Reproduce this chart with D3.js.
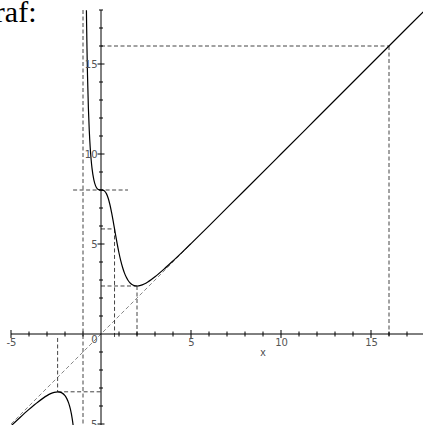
<!DOCTYPE html>
<html>
<head>
<meta charset="utf-8">
<script src="https://cdn.jsdelivr.net/npm/d3@7"></script>
<style>
  html, body { margin: 0; padding: 0; background: #fff; }
  svg { display: block; }
</style>
</head>
<body>
<svg id="chart" width="423" height="425"></svg>
<script>
// ---- data ----
const rightX = [-0.81, -0.8, -0.78, -0.75, -0.7, -0.65, -0.6, -0.55, -0.5, -0.4, -0.3, -0.2, -0.1, 0, 0.1, 0.2, 0.3, 0.4, 0.5, 0.6, 0.7, 0.8, 0.9, 1.0, 1.1, 1.2, 1.3, 1.4, 1.5, 1.6, 1.7, 1.8, 1.9, 2.0, 2.2, 2.4, 2.6, 2.8, 3.0, 3.5, 4.0, 4.5, 5, 6, 7, 8, 10, 12, 14, 16, 17.9];
const rightY = [17.99, 17.23, 15.93, 14.385, 12.542, 11.275, 10.369, 9.706, 9.214, 8.574, 8.230, 8.066, 8.008, 8.0, 7.992, 7.938, 7.798, 7.543, 7.167, 6.686, 6.136, 5.562, 5.006, 4.5, 4.060, 3.693, 3.396, 3.163, 2.986, 2.856, 2.765, 2.708, 2.676, 2.667, 2.698, 2.778, 2.891, 3.027, 3.179, 3.603, 4.062, 4.538, 5.024, 6.009, 7.003, 8.0, 9.998, 11.998, 13.998, 15.998, 17.898];
const leftX = [-5.0, -4.8, -4.5, -4.0, -3.5, -3.0, -2.8, -2.6, -2.4, -2.2, -2.0, -1.9, -1.8, -1.7, -1.6, -1.55, -1.5];
const leftY = [-5.105, -4.917, -4.639, -4.190, -3.775, -3.423, -3.315, -3.240, -3.211, -3.257, -3.429, -3.590, -3.828, -4.179, -4.701, -5.056, -5.5];

// dashed guide segments: [x1, y1, x2, y2]
const guideSegments = [
  [-1, 18, -1, -5.1],          // vertical asymptote
  [0, 16, 16, 16],
  [16, 16, 16, -0.22],
  [-1.55, 8, 1.5, 8],
  [0, 5.837, 0.752, 5.837],
  [0.752, 5.837, 0.752, -0.22],
  [0, 2.667, 2, 2.667],
  [2, 2.667, 2, -0.22],
  [-2.41, -0.22, -2.41, -3.211],
  [-2.41, -3.211, 0.1, -3.211]
];
const asymptoteSegment = [-5.0, -5.0, 5.0, 5.0];  // y = x

const xMajorTicks = [-5, 5, 10, 15];
const xMinorTicks = d3.range(-5, 18, 1);
const yMajorTicks = [-5, 5, 10, 15];
const yMinorTicks = d3.range(-5, 19, 1);
const xTickLabels = ["-5", "5", "10", "15"];
const yTickLabels = ["-5", "5", "10", "15"];
const titleText = "Graf:";
const axisLabel = "x";

// ---- scales ----
const x = d3.scaleLinear().domain([-5.6, 17.9]).range([0.2, 423.2]);
const y = d3.scaleLinear().domain([-5.05, 18]).range([424.9, 10]);

const svg = d3.select("#chart");

svg.append("defs").append("clipPath").attr("id", "plotclip")
  .append("rect").attr("x", 0).attr("y", y(18)).attr("width", 423).attr("height", 425 - y(18));

// title
svg.append("text")
  .attr("x", 36.5).attr("y", 22)
  .attr("text-anchor", "end")
  .style("font-family", "'Liberation Serif', 'Times New Roman', serif")
  .style("font-size", "30px")
  .attr("fill", "#000")
  .text(titleText);

const plot = svg.append("g").attr("clip-path", "url(#plotclip)");

// asymptote y = x
plot.append("line")
  .attr("x1", x(asymptoteSegment[0])).attr("y1", y(asymptoteSegment[1]))
  .attr("x2", x(asymptoteSegment[2])).attr("y2", y(asymptoteSegment[3]))
  .attr("stroke", "#888").attr("stroke-width", 1).attr("stroke-dasharray", "4,2.5");

// guide lines
plot.selectAll("line.guide").data(guideSegments).enter().append("line")
  .attr("class", "guide")
  .attr("x1", d => x(d[0])).attr("y1", d => y(d[1]))
  .attr("x2", d => x(d[2])).attr("y2", d => y(d[3]))
  .attr("stroke", "#444").attr("stroke-width", 1).attr("stroke-dasharray", "4,2.5");

// axes lines
const axisG = svg.append("g");
axisG.append("line")
  .attr("x1", x(-5)).attr("x2", x(17.9)).attr("y1", y(0)).attr("y2", y(0))
  .attr("stroke", "#000").attr("stroke-width", 1);
axisG.append("line")
  .attr("x1", x(0)).attr("x2", x(0)).attr("y1", y(18)).attr("y2", 425)
  .attr("stroke", "#000").attr("stroke-width", 1);

// x ticks
axisG.selectAll("line.xminor").data(xMinorTicks.filter(v => v !== 0)).enter().append("line")
  .attr("x1", d => x(d)).attr("x2", d => x(d))
  .attr("y1", d => y(0) - (xMajorTicks.includes(d) ? 4 : 2.5))
  .attr("y2", d => y(0) + (xMajorTicks.includes(d) ? 4 : 2.5))
  .attr("stroke", "#000").attr("stroke-width", 1);
// y ticks
axisG.selectAll("line.yminor").data(yMinorTicks.filter(v => v !== 0)).enter().append("line")
  .attr("y1", d => y(d)).attr("y2", d => y(d))
  .attr("x1", d => x(0) - (yMajorTicks.includes(d) ? 3.5 : 2))
  .attr("x2", d => x(0) + (yMajorTicks.includes(d) ? 3.5 : 2))
  .attr("stroke", "#000").attr("stroke-width", 1);

const labelFont = "'DejaVu Sans', sans-serif";
axisG.selectAll("text.xl").data(xMajorTicks).enter().append("text")
  .attr("x", d => x(d) + 0.5).attr("y", y(0) + 12)
  .attr("text-anchor", "middle")
  .style("font-family", labelFont).style("font-size", "10px")
  .attr("fill", "#555")
  .text((d, i) => xTickLabels[i]);
axisG.selectAll("text.yl").data(yMajorTicks).enter().append("text")
  .attr("x", x(0) - 3.5).attr("y", d => y(d) + 3.6)
  .attr("text-anchor", "end")
  .style("font-family", labelFont).style("font-size", "10px")
  .attr("fill", "#555")
  .text((d, i) => yTickLabels[i]);
axisG.append("text")
  .attr("x", x(0) - 6.5).attr("y", y(0) + 9)
  .attr("text-anchor", "middle")
  .style("font-family", labelFont).style("font-size", "10px")
  .attr("fill", "#555")
  .text("0");
axisG.append("text")
  .attr("x", x(9)).attr("y", y(0) + 22)
  .attr("text-anchor", "middle")
  .style("font-family", "'Liberation Mono', 'DejaVu Sans Mono', monospace").style("font-size", "10px")
  .attr("fill", "#444")
  .text(axisLabel);

// curve
const line = d3.line().x(d => x(d[0])).y(d => y(d[1])).curve(d3.curveMonotoneX);
plot.append("path")
  .datum(rightX.map((v, i) => [v, rightY[i]]))
  .attr("d", line).attr("fill", "none").attr("stroke", "#000").attr("stroke-width", 1.2);
plot.append("path")
  .datum(leftX.map((v, i) => [v, leftY[i]]))
  .attr("d", line).attr("fill", "none").attr("stroke", "#000").attr("stroke-width", 1.2);
</script>
</body>
</html>
